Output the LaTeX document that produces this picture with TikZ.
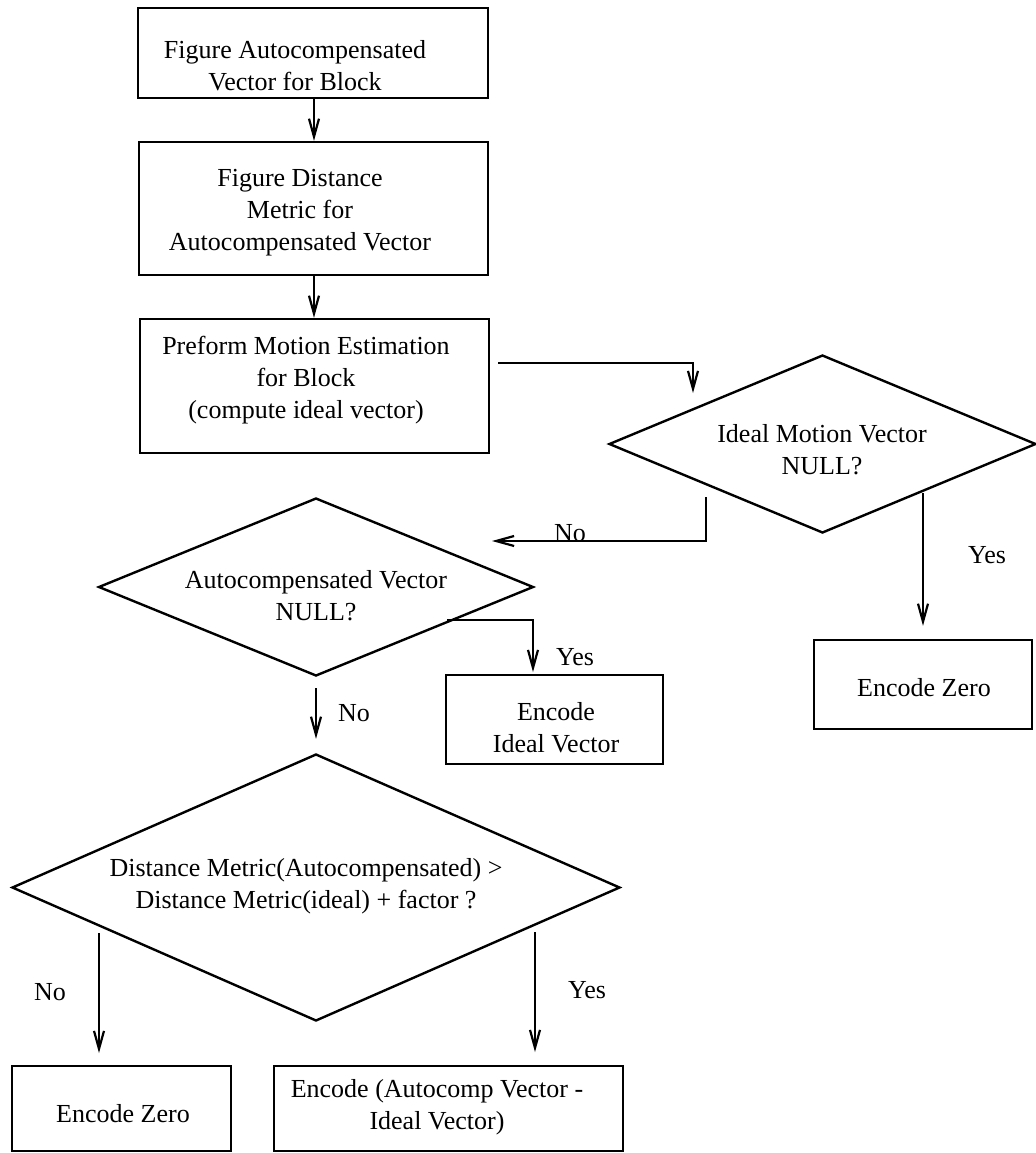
\documentclass[tikz,border=0pt]{standalone}
\usepackage{fontspec}
\setmainfont{Liberation Serif}
\usetikzlibrary{shapes.geometric,arrows.meta}
\begin{document}
\begin{tikzpicture}[x=0.5pt,y=-0.5pt,
  every node/.style={font=\fontsize{13}{16}\selectfont},
  proc/.style={draw, rectangle, line width=1.2pt, inner sep=0pt},
  decision/.style={draw, diamond, line width=1.2pt, inner sep=0pt, aspect=1},
  txt/.style={align=center, inner sep=0pt},
  lbl/.style={inner sep=0pt},
  flow/.style={line width=1.1pt, -{Straight Barb[length=9pt,width=5pt,line width=1.1pt]}},
]
\useasboundingbox (0,0) rectangle (1036,1153);

% process boxes
\node[proc, minimum width=175pt,   minimum height=45pt]   (box1) at (313,53) {};
\node[proc, minimum width=174.5pt, minimum height=66.5pt] (box2) at (313.5,208.5) {};
\node[proc, minimum width=174.5pt, minimum height=67pt]   (box3) at (314.5,386) {};
\node[proc, minimum width=109pt,   minimum height=44.5pt] (ezr)  at (923,684.5) {};
\node[proc, minimum width=108.5pt, minimum height=44.5pt] (eiv)  at (554.5,719.5) {};
\node[proc, minimum width=109.5pt, minimum height=42.5pt] (ezl)  at (121.5,1108.5) {};
\node[proc, minimum width=174.5pt, minimum height=42.5pt] (eav)  at (448.5,1108.5) {};

% decisions
\node[decision, minimum width=213.5pt, minimum height=89pt]    (d1) at (822.5,444) {};
\node[decision, minimum width=217.5pt, minimum height=89pt]    (d2) at (316,587) {};
\node[decision, minimum width=304pt,   minimum height=133.5pt] (d3) at (316,887.5) {};

% box and decision texts
\node[txt] (t1) at (295,66) {Figure Autocompensated\\Vector for Block};
\node[txt] (t2) at (300,213) {Figure Distance\\Metric for\\Autocompensated Vector};
\node[txt] (t3) at (306,380) {Preform Motion Estimation\\for Block\\(compute ideal vector)};
\node[txt] (td1) at (822,450) {Ideal Motion Vector\\NULL?};
\node[txt] (td2) at (316,596) {Autocompensated Vector\\NULL?};
\node[txt] (td3) at (306,886) {Distance Metric(Autocompensated) >\\Distance Metric(ideal) + factor ?};
\node[txt] (tezr) at (924,688) {Encode Zero};
\node[txt] (teiv) at (556,728) {Encode\\Ideal Vector};
\node[txt] (tezl) at (123,1114) {Encode Zero};
\node[txt] (teav) at (437,1107) {Encode (Autocomp Vector -\\Ideal Vector)};

% column of the top arrows and free ends of the connectors
\coordinate (col) at (314,0);
\coordinate (a1) at (498,363);
\coordinate (a2) at (693,393);
\coordinate (n1s) at (706,497);
\coordinate (n1e) at (492,541);
\coordinate (y1s) at (923,493);
\coordinate (y2s) at (447,620);
\coordinate (y2e) at (533,672);
\coordinate (n3s) at (99,933);
\coordinate (n3e) at (99,1053);
\coordinate (y3s) at (535,932);
\coordinate (y3e) at (535,1052);

% connectors
\draw[flow] (box1.south -| col) -- (box2.north -| col);
\draw[flow] (box2.south -| col) -- (box3.north -| col);
\draw[flow] (a1) -| (a2);
\draw[flow] (n1s) |- (n1e);
\draw[flow] (y1s) -- ([yshift=6.5pt]ezr.north);
\draw[flow] (y2s) -| (y2e);
\draw[flow] ([yshift=-5.5pt]d2.south) -- ([yshift=7pt]d3.north);
\draw[flow] (n3s) -- (n3e);
\draw[flow] (y3s) -- (y3e);

% branch labels
\node[lbl, anchor=base] (lno1) at (570,541) {No};
\node[lbl] (lyes1) at (987,555) {Yes};
\node[lbl] (lyes2) at (575,657) {Yes};
\node[lbl] (lno2) at (354,713) {No};
\node[lbl] (lno3) at (50,992) {No};
\node[lbl] (lyes3) at (587,990) {Yes};
\end{tikzpicture}
\end{document}
